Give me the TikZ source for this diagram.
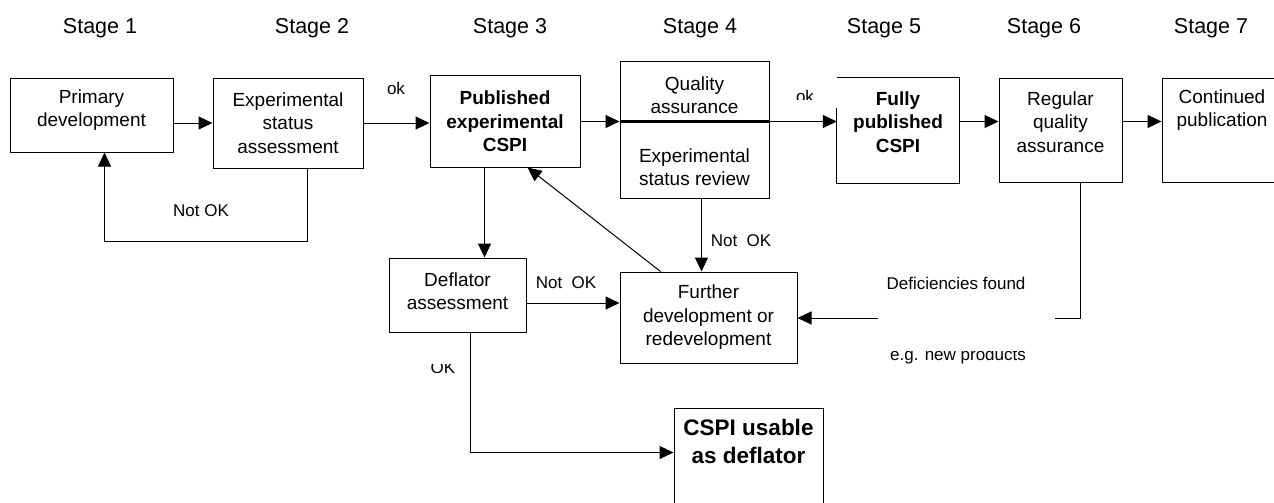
\documentclass[tikz,border=0pt]{standalone}
\usepackage{fontspec}
\setmainfont{Liberation Sans}
\usetikzlibrary{arrows.meta,calc}
\begin{document}
\begin{tikzpicture}[x=1pt,y=-1pt,
 box/.style={draw, line width=1pt, inner sep=0pt},
 txt/.style={align=center, font=\fontsize{19}{23.5}\selectfont, inner sep=0pt},
 btxt/.style={align=center, font=\fontsize{19}{23.5}\selectfont\bfseries, inner sep=0pt},
 lbl/.style={font=\fontsize{17}{20}\selectfont, inner sep=0pt, anchor=base},
 stagelbl/.style={font=\fontsize{21.5}{25}\selectfont, inner sep=0pt, anchor=base},
 arr/.style={line width=1pt, -{Triangle[length=14pt,width=13pt]}},
 conn/.style={line width=1pt}]
\useasboundingbox (0,0) rectangle (1274,503);
\clip (0,0) rectangle (1274,503);

% stage headings
\node[stagelbl] (s1) at (100,34) {Stage 1};
\node[stagelbl] (s2) at (312,34) {Stage 2};
\node[stagelbl] (s3) at (510,34) {Stage 3};
\node[stagelbl] (s4) at (700,34) {Stage 4};
\node[stagelbl] (s5) at (884,34) {Stage 5};
\node[stagelbl] (s6) at (1044,34) {Stage 6};
\node[stagelbl] (s7) at (1211,34) {Stage 7};

% boxes
\node[box, minimum width=163pt, minimum height=74pt] (prim) at (91.5,115) {};
\node[txt] (primT) at (91.5,110) {Primary\\development};

\node[box, txt, minimum width=150pt, minimum height=90pt] (exp) at (288,123) {Experimental\\status\\assessment};

\node[box, btxt, minimum width=150pt, minimum height=91pt] (pub) at (505,121.5) {Published\\experimental\\CSPI};

\node[box, minimum width=149pt, minimum height=136pt] (qa) at (694.5,130) {};
\draw[line width=2.2pt] ($(qa.north west)+(0,60)$) -- ($(qa.north east)+(0,60)$);
\node[txt] (qaT1) at (694.5,95) {Quality\\assurance};
\node[txt] (qaT2) at (694.5,167) {Experimental\\status review};

\node[minimum width=122pt, minimum height=105pt, inner sep=0pt] (fully) at (898,130.5) {};
\draw[conn] ($(fully.north west)+(0,30)$) -- (fully.south west) -- (fully.south east) -- (fully.north east) -- (fully.north west);
\node[btxt] (fullyT) at (898,122) {Fully\\published\\CSPI};

\node[box, minimum width=123pt, minimum height=104pt] (reg) at (1060.5,130) {};
\node[txt] (regT) at (1060.5,122) {Regular\\quality\\assurance};

\node[box, minimum width=123pt, minimum height=104pt] (cont) at (1223.5,130) {};
\node[txt] (contT) at (1222,110) {Continued\\publication};

\node[box, minimum width=137pt, minimum height=74pt] (defl) at (457.5,295) {};
\node[txt] (deflT) at (457.5,291) {Deflator\\assessment};

\node[box, txt, minimum width=177pt, minimum height=91pt] (fur) at (708.5,317.5) {Further\\development or\\redevelopment};

\node[box, minimum width=149pt, minimum height=112pt] (use) at (748.5,464) {};
\node[align=center, inner sep=0pt, font=\fontsize{22.5}{28}\selectfont\bfseries] (useT) at (748.5,441) {CSPI usable\\as deflator};

% helper points on box edges
\coordinate (expB) at ($(exp.south west)+(95,0)$);
\coordinate (primB) at ($(prim.south west)+(95,0)$);
\coordinate (pubB) at ($(pub.south west)+(55,0)$);
\coordinate (pubB2) at ($(pub.south west)+(98,0)$);
\coordinate (deflR) at ($(defl.east)+(0,8)$);
\coordinate (qaB) at ($(qa.south west)+(82,0)$);
\coordinate (furT) at ($(fur.north west)+(41,0)$);
\coordinate (regB) at ($(reg.south west)+(82,0)$);
\coordinate (deflB) at ($(defl.south west)+(82,0)$);
\coordinate (useL) at ($(use.north west)+(0,45)$);
\coordinate (gapR) at (1055,318);
\coordinate (gapL) at (878,318);

% connectors
\draw[arr] (exp.west -| prim.east) -- (exp.west);
\draw[arr] (exp.east) -- (exp.east -| pub.west);
\draw[arr] (pub.east) -- (pub.east -| qa.west);
\draw[arr] (qa.east |- pub.east) -- (fully.west |- pub.east);
\draw[arr] (fully.east |- pub.east) -- (reg.west |- pub.east);
\draw[arr] (reg.east |- pub.east) -- (cont.west |- pub.east);

\draw[arr] (expB) -- ++(0,73) -| (primB);
\draw[arr] (pubB) -- (pubB |- defl.north);
\draw[arr] (deflR) -- (deflR -| fur.west);
\draw[arr] (qaB) -- (qaB |- fur.north);
\draw[arr] (furT) -- (pubB2);
\draw[conn] (regB) |- (gapR);
\draw[arr] (gapL) -- (gapL -| fur.east);
\draw[arr] (deflB) |- (useL);

% labels
\node[lbl] (ok1) at (396,95) {ok};
\begin{scope}
\clip (780,80) rectangle (830,99);
\node[lbl] (ok2) at (805,102) {ok};
\end{scope}
\node[lbl] (nok1) at (201,216) {Not OK};
\node[lbl] (nok2) at (741,246) {Not\ \ OK};
\node[lbl] (nok3) at (566,288) {Not\ \ OK};
\begin{scope}
\clip (420,364) rectangle (470,380);
\node[lbl] (okD) at (443,373) {OK};
\end{scope}
\node[lbl] (def) at (956,289) {Deficiencies found};
\begin{scope}
\clip (880,351) rectangle (1040,370);
\node[lbl] (eg) at (958,360) {e.g. new products};
\end{scope}
\end{tikzpicture}
\end{document}
